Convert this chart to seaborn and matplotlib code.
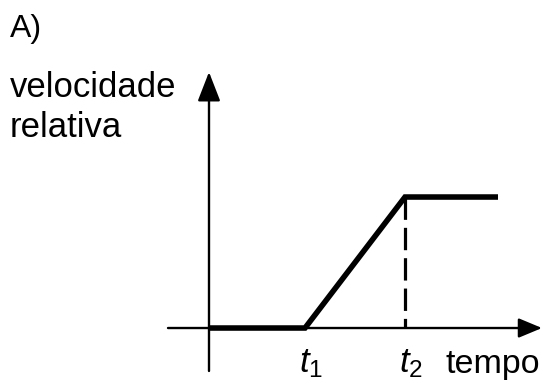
import matplotlib
matplotlib.use("Agg")
import matplotlib.pyplot as plt
import seaborn as sns
import pandas as pd

# Piecewise profile: at rest until t1, linear ramp to t2, then constant
tempo = [0.0, 0.96, 1.96, 2.89]
velocidade = [0.0, 0.0, 1.0, 1.0]
tick_names = ["$t_1$", "$t_2$"]
tick_pos = [tempo[1], tempo[2]]

sns.set_style("white")
plt.rcParams["font.family"] = ["Liberation Sans", "DejaVu Sans"]
plt.rcParams["text.color"] = "black"
plt.rcParams["mathtext.fontset"] = "custom"
plt.rcParams["mathtext.rm"] = "Liberation Sans"
plt.rcParams["mathtext.it"] = "Liberation Sans:italic"

fig = plt.figure(figsize=(5.43, 3.85), dpi=100)
ax = fig.add_axes([0, 0, 1, 1])
ax.set_xlim(-2.09, 3.34)
ax.set_ylim(-0.435, 2.504)
ax.axis("off")

df = pd.DataFrame({"tempo": tempo, "velocidade": velocidade})
sns.lineplot(data=df, x="tempo", y="velocidade", ax=ax, color="black",
             linewidth=4.0, sort=False, solid_capstyle="butt",
             solid_joinstyle="miter")

# dashed guide from the end of the ramp down to the time axis
ax.plot([tempo[2], tempo[2]], [velocidade[2], 0], color="black",
        linewidth=2.3, linestyle=(0, (7.0, 2.5)), solid_capstyle="butt")

# axes with arrowheads
ax.annotate("", xy=(0, 1.954), xytext=(0, -0.328),
            arrowprops=dict(arrowstyle="-|>,head_length=0.9,head_width=0.35",
                            mutation_scale=20, lw=1.7, color="black",
                            shrinkA=0, shrinkB=0))
ax.annotate("", xy=(3.33, 0), xytext=(-0.41, 0),
            arrowprops=dict(arrowstyle="-|>,head_length=0.72,head_width=0.3",
                            mutation_scale=20, lw=1.7, color="black",
                            shrinkA=0, shrinkB=0))

for pos, name in zip(tick_pos, tick_names):
    ax.annotate(name, xy=(pos, 0), xytext=(4, -32), textcoords="offset points",
                ha="center", va="baseline", fontsize=25)

W, H = 543, 385
fig.text(446 / W, 1 - 373 / H, "tempo", fontsize=24.5, va="baseline", ha="left")
fig.text(10 / W, 1 - 97 / H, "velocidade", fontsize=25, va="baseline", ha="left")
fig.text(10 / W, 1 - 137 / H, "relativa", fontsize=25, va="baseline", ha="left")
fig.text(10 / W, 1 - 37 / H, "A)", fontsize=23, va="baseline", ha="left")

fig.savefig("out.png", dpi=100)
